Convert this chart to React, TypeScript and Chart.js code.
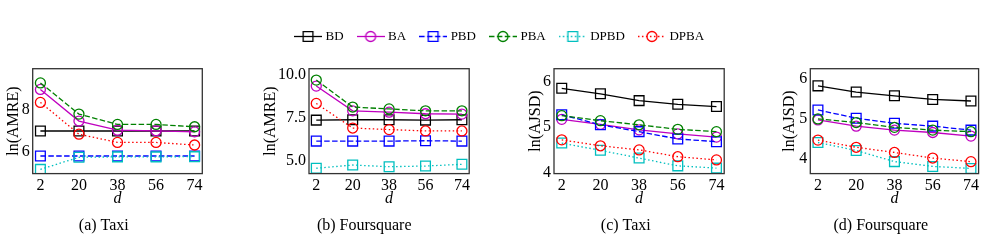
import React, { useEffect, useRef } from 'react';
import { Chart, registerables } from 'chart.js';

Chart.register(...registerables);

// ---------------- data ----------------
const dValues = [2, 20, 38, 56, 74];
const xTickValues = [2, 20, 38, 56, 74];
const seriesNames = ['BD', 'BA', 'PBD', 'PBA', 'DPBD', 'DPBA'];

// (a) Taxi, ln(AMRE)
const taxiAmreBD = [6.98, 6.98, 6.98, 6.98, 6.98];
const taxiAmreBA = [8.94, 7.45, 7.02, 6.99, 6.94];
const taxiAmrePBD = [5.8, 5.8, 5.8, 5.8, 5.8];
const taxiAmrePBA = [9.25, 7.78, 7.29, 7.29, 7.18];
const taxiAmreDPBD = [5.17, 5.74, 5.76, 5.76, 5.77];
const taxiAmreDPBA = [8.33, 6.83, 6.44, 6.44, 6.32];

// (b) Foursquare, ln(AMRE)
const fsqAmreBD = [7.38, 7.4, 7.4, 7.38, 7.4];
const fsqAmreBA = [9.36, 7.92, 7.84, 7.75, 7.73];
const fsqAmrePBD = [6.16, 6.16, 6.16, 6.18, 6.16];
const fsqAmrePBA = [9.71, 8.14, 8.03, 7.92, 7.92];
const fsqAmreDPBD = [4.58, 4.77, 4.67, 4.71, 4.81];
const fsqAmreDPBA = [8.35, 6.92, 6.83, 6.75, 6.75];

// (c) Taxi, ln(AJSD)
const taxiAjsdBD = [5.85, 5.73, 5.58, 5.5, 5.45];
const taxiAjsdBA = [5.17, 5.06, 4.94, 4.85, 4.78];
const taxiAjsdPBD = [5.27, 5.05, 4.9, 4.74, 4.68];
const taxiAjsdPBA = [5.25, 5.14, 5.05, 4.95, 4.9];
const taxiAjsdDPBD = [4.65, 4.49, 4.32, 4.15, 4.1];
const taxiAjsdDPBA = [4.72, 4.59, 4.5, 4.35, 4.28];

// (d) Foursquare, ln(AJSD)
const fsqAjsdBD = [5.83, 5.675, 5.58, 5.49, 5.45];
const fsqAjsdBA = [4.975, 4.82, 4.72, 4.66, 4.57];
const fsqAjsdPBD = [5.225, 5.02, 4.89, 4.82, 4.72];
const fsqAjsdPBA = [5.0, 4.91, 4.79, 4.72, 4.68];
const fsqAjsdDPBD = [4.41, 4.21, 3.93, 3.81, 3.76];
const fsqAjsdDPBA = [4.47, 4.29, 4.16, 4.02, 3.93];

const amreTaxiTicks = [6, 8];
const amreFsqTicks = [5, 7.5, 10];
const ajsdTicks = [4, 5, 6];

// ---------------- styles / layout ----------------
const FONT = "'Liberation Serif', 'Times New Roman', serif";

const seriesStyles = [
  { color: '#000000', marker: 'rect', dash: [] as number[] },
  { color: '#bf00bf', marker: 'circle', dash: [] as number[] },
  { color: '#0000ff', marker: 'rect', dash: [5.5, 2.4] },
  { color: '#008000', marker: 'circle', dash: [5.5, 2.4] },
  { color: '#00bfbf', marker: 'rect', dash: [1.5, 2.5] },
  { color: '#ff0000', marker: 'circle', dash: [1.5, 2.5] },
];

const LINE_W = 1.3;
const CIRCLE_R = 5;
const RECT_R = 6.9;
const PLOT_TOP = 68.7;
const PLOT_BOTTOM = 173.6;
const XTITLE_Y = 199;
const CAPTION_Y = 225.5;
const CANVAS_TOP = 55;
const PAGE_H = 240;

type PanelSpec = {
  yTitle: string;
  caption: string;
  series: number[][];
  yMin: number;
  yMax: number;
  yTicks: number[];
  decimals: number;
  L: number;
  R: number;
  Ty: number;
  capX: number;
};

const panels: PanelSpec[] = [
  {
    yTitle: 'ln(AMRE)', caption: '(a) Taxi',
    series: [taxiAmreBD, taxiAmreBA, taxiAmrePBD, taxiAmrePBA, taxiAmreDPBD, taxiAmreDPBA],
    yMin: 4.97, yMax: 9.92, yTicks: amreTaxiTicks, decimals: 0,
    L: 32.7, R: 202.3, Ty: 13.5, capX: 103.8,
  },
  {
    yTitle: 'ln(AMRE)', caption: '(b) Foursquare',
    series: [fsqAmreBD, fsqAmreBA, fsqAmrePBD, fsqAmrePBA, fsqAmreDPBD, fsqAmreDPBA],
    yMin: 4.27, yMax: 10.37, yTicks: amreFsqTicks, decimals: 1,
    L: 309, R: 469.2, Ty: 270.5, capX: 364.2,
  },
  {
    yTitle: 'ln(AJSD)', caption: '(c) Taxi',
    series: [taxiAjsdBD, taxiAjsdBA, taxiAjsdPBD, taxiAjsdPBA, taxiAjsdDPBD, taxiAjsdDPBA],
    yMin: 3.98, yMax: 6.28, yTicks: ajsdTicks, decimals: 0,
    L: 554, R: 724.2, Ty: 535.8, capX: 625.8,
  },
  {
    yTitle: 'ln(AJSD)', caption: '(d) Foursquare',
    series: [fsqAjsdBD, fsqAjsdBA, fsqAjsdPBD, fsqAjsdPBA, fsqAjsdDPBD, fsqAjsdDPBA],
    yMin: 3.63, yMax: 6.26, yTicks: ajsdTicks, decimals: 0,
    L: 810.3, R: 978.6, Ty: 789.3, capX: 880.8,
  },
];

const TITLE_SIZE = 16;
const TITLE_LH = TITLE_SIZE * 1.2;

function Panel({ spec }: { spec: PanelSpec }) {
  const ref = useRef<HTMLCanvasElement | null>(null);
  const scaleLeft = spec.Ty - TITLE_LH / 2;
  const canvasLeft = Math.floor(scaleLeft - 2);
  const canvasW = Math.ceil(spec.R + 10 - canvasLeft);
  const canvasH = PAGE_H - CANVAS_TOP;

  useEffect(() => {
    const canvas = ref.current!;
    const datasets = spec.series.map((vals, i) => {
      const st = seriesStyles[i];
      return {
        label: seriesNames[i],
        data: dValues.map((x, j) => ({ x, y: vals[j] })),
        borderColor: st.color,
        borderWidth: LINE_W,
        borderDash: st.dash,
        backgroundColor: 'rgba(0,0,0,0)',
        pointStyle: st.marker,
        pointRadius: st.marker === 'rect' ? RECT_R : CIRCLE_R,
        pointHoverRadius: st.marker === 'rect' ? RECT_R : CIRCLE_R,
        pointBorderColor: st.color,
        pointBackgroundColor: 'rgba(0,0,0,0)',
        pointBorderWidth: LINE_W,
        fill: false,
        tension: 0,
        clip: 0,
        order: seriesNames.length - i,
      };
    });

    const framePlugin = {
      id: 'frame',
      afterDatasetsDraw(chart: any) {
        const { left, right, top, bottom } = chart.chartArea;
        const ctx = chart.ctx;
        ctx.save();
        ctx.strokeStyle = '#333333';
        ctx.lineWidth = 1.3;
        ctx.strokeRect(left, top, right - left, bottom - top);
        ctx.restore();
      },
    };
    const captionPlugin = {
      id: 'caption',
      afterDraw(chart: any) {
        const ctx = chart.ctx;
        ctx.save();
        ctx.fillStyle = '#000';
        ctx.font = `16px ${FONT}`;
        ctx.textAlign = 'center';
        ctx.textBaseline = 'middle';
        ctx.fillText(spec.caption, spec.capX - canvasLeft, CAPTION_Y - CANVAS_TOP);
        ctx.restore();
      },
    };

    const chart = new Chart(canvas, {
      type: 'line',
      data: { datasets } as any,
      options: {
        animation: false,
        responsive: false,
        events: [],
        layout: {
          padding: {
            left: scaleLeft - canvasLeft,
            right: canvasLeft + canvasW - spec.R,
            top: PLOT_TOP - CANVAS_TOP,
            bottom: 0,
          },
        },
        plugins: { legend: { display: false }, tooltip: { enabled: false }, title: { display: false } },
        scales: {
          x: {
            type: 'linear',
            min: -1.6,
            max: 77.6,
            afterBuildTicks: (s: any) => { s.ticks = xTickValues.map((v) => ({ value: v })); },
            afterFit: (s: any) => { s.height = PAGE_H - PLOT_BOTTOM; },
            ticks: {
              font: { family: FONT, size: 16 },
              color: '#000',
              padding: 2.5,
              maxRotation: 0,
              autoSkip: false,
              callback: (v: any) => String(v),
            },
            grid: { display: false, drawTicks: false },
            border: { display: false },
            title: {
              display: true,
              text: 'd',
              color: '#000',
              font: { family: FONT, size: 16, style: 'italic' },
              padding: { top: 0, bottom: PAGE_H - XTITLE_Y - TITLE_LH / 2 },
            },
          },
          y: {
            type: 'linear',
            min: spec.yMin,
            max: spec.yMax,
            afterBuildTicks: (s: any) => { s.ticks = spec.yTicks.map((v) => ({ value: v })); },
            afterFit: (s: any) => { s.width = spec.L - scaleLeft; },
            ticks: {
              font: { family: FONT, size: 16 },
              color: '#000',
              padding: 3,
              autoSkip: false,
              callback: (v: any) => (spec.decimals ? Number(v).toFixed(spec.decimals) : String(v)),
            },
            grid: { display: false, drawTicks: false },
            border: { display: false },
            title: {
              display: true,
              text: spec.yTitle,
              color: '#000',
              font: { family: FONT, size: TITLE_SIZE },
              padding: 0,
            },
          },
        },
      } as any,
      plugins: [framePlugin, captionPlugin],
    });
    return () => chart.destroy();
  }, []);

  return (
    <canvas
      ref={ref}
      width={canvasW}
      height={canvasH}
      style={{ position: 'absolute', left: canvasLeft, top: CANVAS_TOP, width: canvasW, height: canvasH }}
    />
  );
}

function makeLegendIcon(st: { color: string; marker: string; dash: number[] }) {
  const c = document.createElement('canvas');
  c.width = 28;
  c.height = 13;
  const ctx = c.getContext('2d')!;
  ctx.strokeStyle = st.color;
  ctx.lineWidth = LINE_W;
  ctx.setLineDash(st.dash);
  ctx.beginPath();
  ctx.moveTo(0, 6.5);
  ctx.lineTo(28, 6.5);
  ctx.stroke();
  ctx.setLineDash([]);
  ctx.beginPath();
  if (st.marker === 'rect') {
    const h = RECT_R * Math.SQRT1_2;
    ctx.rect(14 - h, 6.5 - h, 2 * h, 2 * h);
  } else {
    ctx.arc(14, 6.5, CIRCLE_R, 0, Math.PI * 2);
  }
  ctx.stroke();
  return c;
}

const LEGEND_H = 130;

function LegendChart() {
  const ref = useRef<HTMLCanvasElement | null>(null);
  useEffect(() => {
    const icons = seriesStyles.map(makeLegendIcon);
    const chart = new Chart(ref.current!, {
      type: 'line',
      data: {
        datasets: seriesNames.map((n) => ({ label: n, data: [] as any[] })),
      },
      options: {
        animation: false,
        responsive: false,
        events: [],
        layout: { padding: { left: 16.1, top: 14, right: 0, bottom: 0 } },
        scales: { x: { display: false }, y: { display: false } },
        plugins: {
          tooltip: { enabled: false },
          legend: {
            display: true,
            position: 'top',
            align: 'center',
            maxHeight: 80,
            labels: {
              usePointStyle: true,
              pointStyleWidth: 22,
              boxHeight: 13,
              padding: 16,
              color: '#000',
              font: { family: FONT, size: 13 },
              generateLabels: () =>
                seriesNames.map((n, i) => ({
                  text: n,
                  fillStyle: 'rgba(0,0,0,0)',
                  strokeStyle: 'rgba(0,0,0,0)',
                  lineWidth: 0,
                  pointStyle: icons[i],
                  hidden: false,
                  datasetIndex: i,
                  fontColor: '#000',
                })),
            },
          },
        },
      } as any,
    });
    return () => chart.destroy();
  }, []);
  return (
    <canvas
      ref={ref}
      width={985}
      height={LEGEND_H}
      style={{ position: 'absolute', left: 0, top: 0, width: 985, height: LEGEND_H }}
    />
  );
}

export default function App() {
  return (
    <div style={{ position: 'absolute', left: 0, top: 0, width: 985, height: 240, background: '#fff' }}>
      <LegendChart />
      {panels.map((p, i) => (
        <Panel key={i} spec={p} />
      ))}
    </div>
  );
}
